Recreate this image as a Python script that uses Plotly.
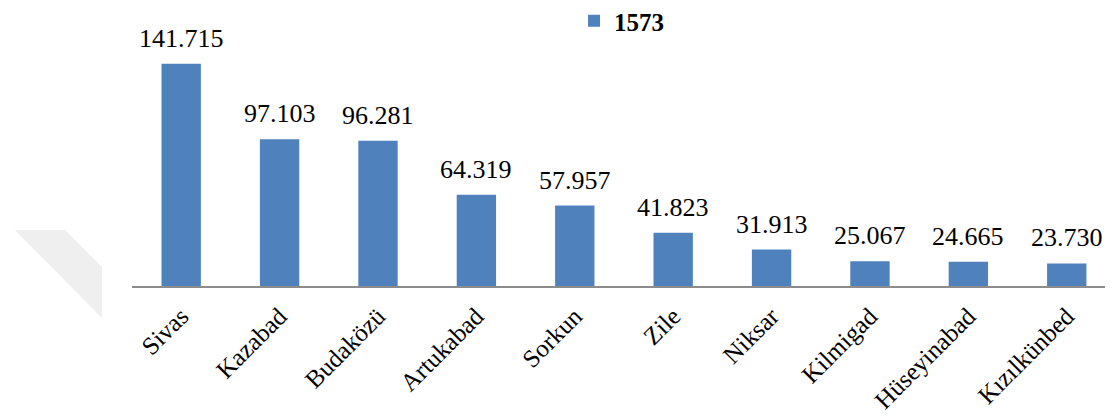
import plotly.graph_objects as go

categories = ["Sivas", "Kazabad", "Budaközü", "Artukabad", "Sorkun", "Zile",
              "Niksar", "Kilmigad", "Hüseyinabad", "Kızılkünbed"]
values = [141.715, 97.103, 96.281, 64.319, 57.957, 41.823, 31.913, 25.067, 24.665, 23.730]
labels = ["141.715", "97.103", "96.281", "64.319", "57.957", "41.823",
          "31.913", "25.067", "24.665", "23.730"]
series_name = "1573"

FONT = "Liberation Serif, Times New Roman, serif"
BLUE = "#4F81BD"

fig = go.Figure()
fig.add_trace(go.Bar(
    x=categories, y=values, name="<b>" + series_name + "</b>",
    marker=dict(color=BLUE, line=dict(width=0)),
    width=0.4, showlegend=True,
))

for c, v, t in zip(categories, values, labels):
    fig.add_annotation(x=c, y=v, text=t, showarrow=False, yanchor="bottom",
                       yshift=9, font=dict(family=FONT, size=26, color="#000"))

# faint watermark shape at the left (decorative)
fig.add_shape(type="path", xref="paper", yref="paper", layer="below",
              path="M -0.1193 0.2276 L -0.0683 0.2276 L -0.0306 0.0772 L -0.0306 -0.1301 Z",
              fillcolor="#EFEFEF", line=dict(width=0))

fig.update_layout(
    width=1105, height=411,
    margin=dict(l=124, r=0, t=32, b=133, autoexpand=False),
    paper_bgcolor="white", plot_bgcolor="white",
    font=dict(family=FONT, color="#000"),
    showlegend=True,
    legend=dict(orientation="h", x=0.4506, y=1.0772, xanchor="left", yanchor="middle",
                font=dict(family=FONT, size=25, color="#000"),
                bgcolor="rgba(0,0,0,0)"),
    xaxis=dict(range=[-0.5, 9.47], showline=True, linecolor="#8c8c8c", linewidth=1.5,
               showgrid=False, zeroline=False, tickangle=-45, automargin=False,
               ticks="outside", ticklen=4, tickcolor="rgba(0,0,0,0)",
               tickfont=dict(family=FONT, size=25, color="#000")),
    yaxis=dict(range=[10.4, 155.8], visible=False, showgrid=False, zeroline=False,
               automargin=False),
    bargap=0.6,
)

fig.write_html("out.html")
